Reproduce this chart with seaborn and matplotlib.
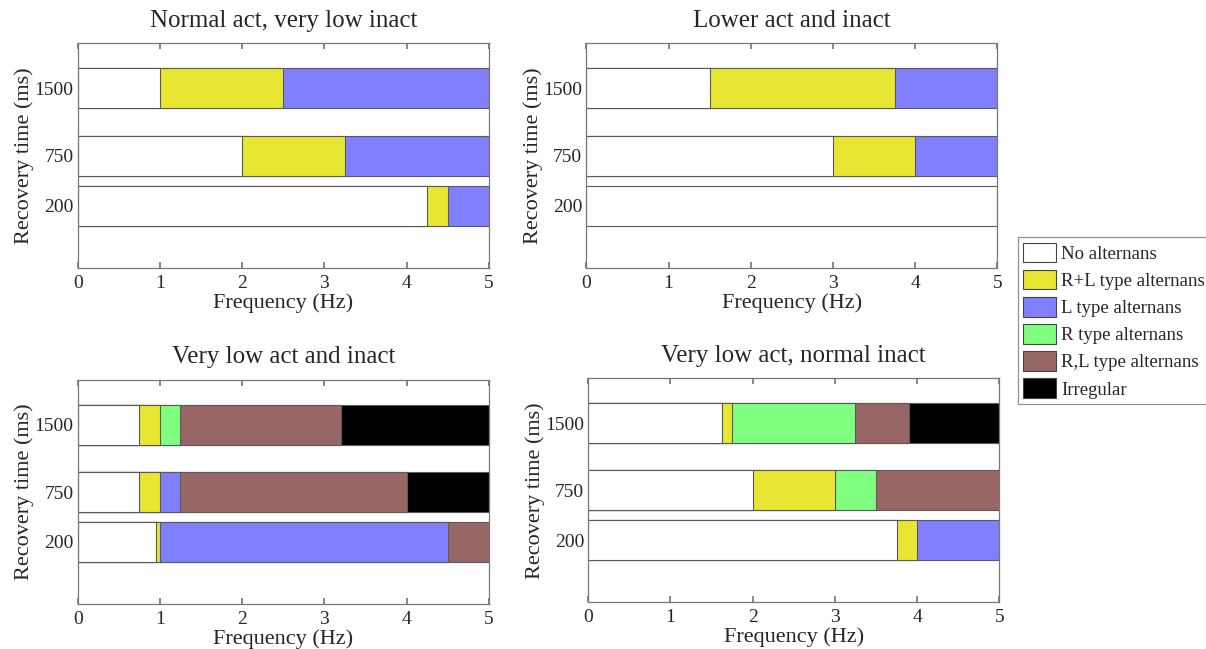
import numpy as np
import pandas as pd
import matplotlib
matplotlib.use('Agg')
import matplotlib.pyplot as plt
from matplotlib.patches import Patch
import seaborn as sns

sns.set_theme(style='white')
plt.rcParams['font.family'] = ['Liberation Serif', 'DejaVu Serif']

# categories of behaviour, in the order they appear along frequency
categories = ['No alternans', 'R+L type alternans', 'L type alternans',
              'R type alternans', 'R,L type alternans', 'Irregular']
cat_colors = ['#ffffff', '#e6e633', '#8080ff', '#80ff80', '#996666', '#000000']

recovery_times = [200, 750, 1500]
recovery_pos = [1.25, 2.25, 3.6]   # where each recovery time sits on the y axis

titles = ['Normal act, very low inact', 'Lower act and inact',
          'Very low act and inact', 'Very low act, normal inact']

# segment right edges (Hz) with their category index, per recovery time
# panel 1: normal act, very low inact
p1_200 = ([4.25, 4.5, 5.0], [0, 1, 2])
p1_750 = ([2.0, 3.25, 5.0], [0, 1, 2])
p1_1500 = ([1.0, 2.5, 5.0], [0, 1, 2])
# panel 2: lower act and inact
p2_200 = ([5.0], [0])
p2_750 = ([3.0, 4.0, 5.0], [0, 1, 2])
p2_1500 = ([1.5, 3.75, 5.0], [0, 1, 2])
# panel 3: very low act and inact
p3_200 = ([0.95, 1.0, 4.5, 5.0], [0, 1, 2, 4])
p3_750 = ([0.75, 1.0, 1.25, 4.0, 5.0], [0, 1, 2, 4, 5])
p3_1500 = ([0.75, 1.0, 1.25, 3.2, 5.0], [0, 1, 3, 4, 5])
# panel 4: very low act, normal inact
p4_200 = ([3.75, 4.0, 5.0], [0, 1, 2])
p4_750 = ([2.0, 3.0, 3.5, 5.0], [0, 1, 3, 4])
p4_1500 = ([1.625, 1.75, 3.25, 3.9, 5.0], [0, 1, 3, 4, 5])

panels = [[p1_200, p1_750, p1_1500],
          [p2_200, p2_750, p2_1500],
          [p3_200, p3_750, p3_1500],
          [p4_200, p4_750, p4_1500]]

fig = plt.figure(figsize=(12.06, 6.49), dpi=100)
ax_rects = [[0.0644, 0.5866, 0.341, 0.3467],
            [0.4862, 0.5866, 0.3408, 0.3467],
            [0.0644, 0.0689, 0.341, 0.3456],
            [0.4878, 0.0720, 0.3408, 0.3451]]

for rect, rows, title in zip(ax_rects, panels, titles):
    ax = fig.add_axes(rect)
    recs = []
    for pos, (ends, cats) in zip(recovery_pos, rows):
        for e, c in zip(ends, cats):
            recs.append({'pos': pos, 'end': e, 'cat': categories[c]})
    df = pd.DataFrame(recs)
    # draw longest segment first, shorter ones on top -> stacked look
    for cat in reversed(categories):
        if (df['cat'] == cat).sum() == 0:
            continue
        col = cat_colors[categories.index(cat)]
        sns.barplot(data=df.assign(end=np.where(df['cat'] == cat, df['end'], np.nan)),
                    x='end', y='pos', orient='y', native_scale=True,
                    color=col, saturation=1, errorbar=None, width=0.8,
                    edgecolor='#5a5a5a', linewidth=0.8, ax=ax)
    ax.set_xlim(0, 5)
    ax.set_ylim(0, 4.5)
    ax.set_xticks(range(6))
    ax.set_yticks(recovery_pos)
    ax.set_yticklabels([str(r) for r in recovery_times])
    ax.tick_params(axis='x', direction='in', length=4, color='#777777',
                   top=True, bottom=True, labelsize=14, pad=5)
    ax.tick_params(axis='y', length=0, labelsize=14, pad=3)
    for sp in ax.spines.values():
        sp.set_color('#777777')
        sp.set_linewidth(0.9)
    ax.set_xlabel('Frequency (Hz)', fontsize=16, labelpad=1)
    ax.set_ylabel('Recovery time (ms)', fontsize=16, labelpad=0)
    ax.set_title(title, fontsize=18, pad=12)

handles = [Patch(facecolor=c, edgecolor='#444444', linewidth=0.8) for c in cat_colors]
leg = fig.legend(handles, categories, loc='upper left', bbox_to_anchor=(0.844, 0.635),
                 fontsize=13.5, frameon=True, fancybox=False, edgecolor='#777777',
                 handlelength=1.75, handleheight=1.25, handletextpad=0.25,
                 labelspacing=0.37, borderpad=0.3, borderaxespad=0)
leg.get_frame().set_linewidth(0.9)

fig.savefig('out.png', dpi=100)
